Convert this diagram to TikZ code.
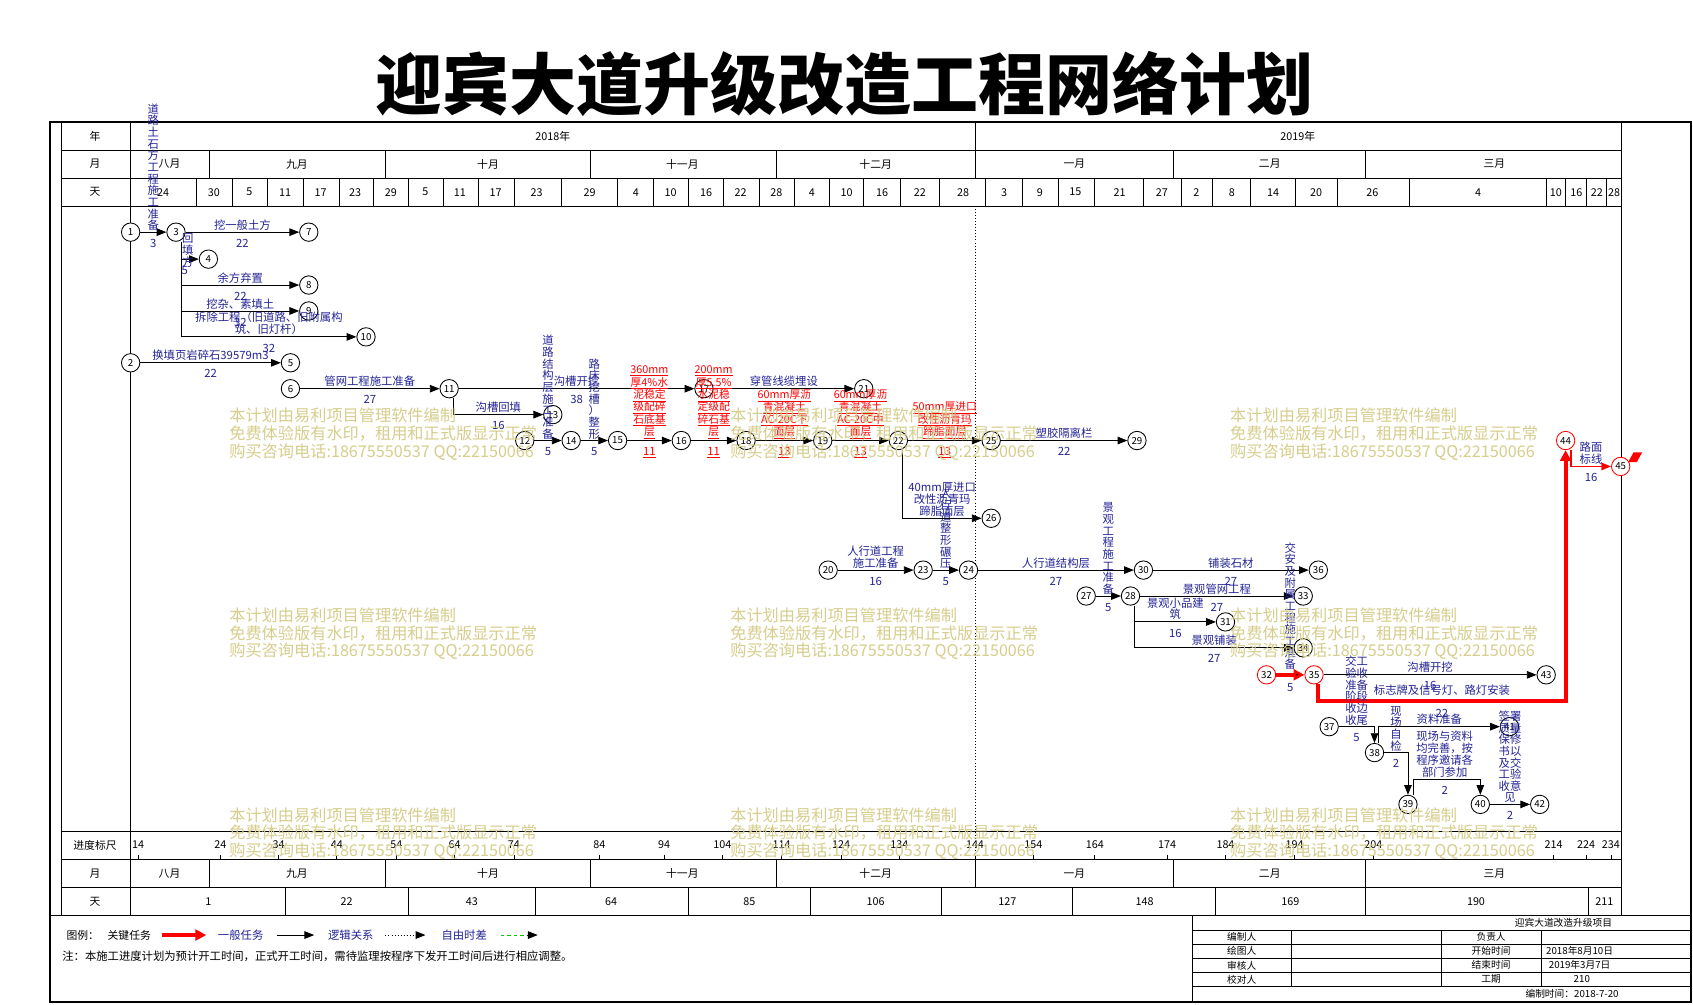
\documentclass[tikz,border=0pt]{standalone}
\usepackage{fontspec}
\setmainfont{Noto Sans CJK SC}
\usepackage{xcolor}
\usepackage{tikz}
\usetikzlibrary{arrows.meta}
\XeTeXlinebreaklocale "zh"
\XeTeXlinebreakskip=0pt plus 1pt
\definecolor{wblue}{RGB}{36,36,150}
\definecolor{wmark}{RGB}{214,206,140}
\definecolor{fgreen}{RGB}{0,200,0}
\newcommand\ulab[1]{\underline{#1}}

\begin{document}
\begin{tikzpicture}[x=1pt,y=-1pt,line width=0.8pt,
  ev/.style={circle,draw,fill=white,minimum size=17pt,inner sep=0pt,font=\fontsize{9}{9}\selectfont},
  kev/.style={ev,draw=red},
  work/.style={-{Triangle[length=9pt,width=7pt]}},
  key/.style={-{Triangle[length=10pt,width=10pt]},draw=red,line width=3.5pt},
  lbl/.style={text=wblue,font=\fontsize{10.5}{11}\selectfont,inner sep=1.5pt},
  dur/.style={lbl,inner sep=1pt,below=5pt},
  vlbl/.style={lbl,text width=11pt,align=center,inner sep=1pt,font=\fontsize{10.5}{10.8}\selectfont},
  vlbl2/.style={vlbl,text width=22pt},
  rlbl/.style={lbl,text=red,align=center,font=\fontsize{10}{11.4}\selectfont},
  hd/.style={font=\fontsize{10}{11}\selectfont},
  ib/.style={font=\fontsize{9}{10}\selectfont},
  wm/.style={text=wmark,anchor=west,align=left,inner sep=0pt,font=\fontsize{15}{16.5}\selectfont}]
  \fill[white] (0,0) rectangle (1568,930);
  \useasboundingbox (0,0) rectangle (1568,930);

  % title
  \node[font=\fontsize{62}{62}\selectfont\bfseries] (title) at (782,78) {迎宾大道升级改造工程网络计划};

  % table rules
  \draw[line width=2pt] (46,113) rectangle (1566,928);
  \draw (57,113) -- (57,848) (121,113) -- (121,848) (1502,113) -- (1502,848);
  \foreach \y in {139,165,191,770,796,822}
    \draw (57,\y) -- (1502,\y);
  \draw (46,848) -- (1566,848);
  \draw (903,113) -- (903,139);
  \foreach \x in {194,357,547,719,903,1087,1265}
    \draw (\x,139) -- (\x,165) (\x,796) -- (\x,822);
  \foreach \x in {182,215,248,281,314,346,378,411,443,476,520,572,605,638,670,703,736,768,800,834,870,913,947,980,1014,1059,1094,1123,1158,1200,1239,1305,1432,1450,1469,1488}
    \draw (\x,165) -- (\x,191);
  \foreach \x in {264,378,496,638,751,872,993,1126,1265,1471}
    \draw (\x,822) -- (\x,848);
  \draw[dotted] (903,191) -- (903,796);

  % table texts
  \node[hd] (nian) at (88,126) {年};
  \node[hd] (yue) at (88,152) {月};
  \node[hd] (tian) at (88,178) {天};
  \node[hd] (chi) at (88,783) {进度标尺};
  \node[hd] (yue2) at (88,809) {月};
  \node[hd] (tian2) at (88,835) {天};
  \node[hd] (y18) at (512,126) {2018年};
  \node[hd] (y19) at (1202,126) {2019年};
  \foreach \x/\m in {157/八月,275/九月,452/十月,632/十一月,811/十二月,995/一月,1176/二月,1384/三月} {
    \node[hd] (ma\x) at (\x,152) {\m};
    \node[hd] (mb\x) at (\x,809) {\m};
  }
  \foreach \x/\d in {151/24,198/30,231/5,264/11,297/17,329/23,362/29,394/5,426/11,459/17,497/23,546/29,589/4,621/10,654/16,686/22,719/28,752/4,784/10,817/16,852/22,892/28,930/3,963/9,996/15,1037/21,1076/27,1108/2,1141/8,1179/14,1219/20,1271/26,1369/4,1441/10,1460/16,1479/22,1495/28}
    \node[hd] (da\x) at (\x,178) {\d};
  \foreach \x/\d in {128/14,204/24,258/34,312/44,367/54,421/64,476/74,555/84,615/94,669/104,724/114,779/124,833/134,903/144,957/154,1014/164,1081/174,1135/184,1199/194,1272/204,1439/214,1469/224,1492/234} {
    \node[hd] (sc\x) at (\x,782) {\d};
    \draw (\x,792) -- (\x,796);
  }
  \foreach \x/\d in {193/1,321/22,437/43,566/64,694/85,811/106,933/127,1060/148,1195/169,1367/190,1486/211}
    \node[hd] (db\x) at (\x,835) {\d};

  % legend and note
  \node[hd,anchor=west] (tuli) at (58,866) {图例：};
  \node[hd,anchor=west] (lgkey) at (96,866) {关键任务};
  \draw[key] (150,866) -- (191,866);
  \node[lbl,anchor=west] (lgwork) at (200,866) {一般任务};
  \draw[work] (257,866) -- (291,866);
  \node[lbl,anchor=west] (lglogic) at (302,866) {逻辑关系};
  \draw[work,dotted] (357,866) -- (394,866);
  \node[lbl,anchor=west] (lgfree) at (407,866) {自由时差};
  \draw[fgreen,dashed] (464,866) -- (490,866);
  \draw[work] (488,866) -- (498,866);
  \node[anchor=west,font=\fontsize{10.5}{11}\selectfont] (note) at (54,886) {注：本施工进度计划为预计开工时间，正式开工时间，需待监理按程序下发开工时间后进行相应调整。};

  % info block
  \foreach \y in {862,875,888,901,914}
    \draw (1104,\y) -- (1566,\y);
  \draw (1104,848) -- (1104,928);
  \foreach \x in {1196,1335,1428}
    \draw (\x,862) -- (\x,914);
  \node[ib] (proj) at (1448,855) {迎宾大道改造升级项目};
  \foreach \y/\a/\b in {868/编制人/负责人,881/绘图人/开始时间,894/审核人/结束时间,907/校对人/工期} {
    \node[ib] (ia\y) at (1150,\y) {\a};
    \node[ib] (ib\y) at (1381,\y) {\b};
  }
  \node[ib] (start) at (1463,881) {2018年8月10日};
  \node[ib] (finish) at (1463,894) {2019年3月7日};
  \node[ib] (span) at (1465,907) {210};
  \node[ib] (made) at (1456,920) {编制时间：2018-7-20};

  % events
  \node[ev] (1) at (121,215) {1};
  \node[ev] (3) at (163,215) {3};
  \node[ev] (7) at (286,215) {7};
  \node[ev] (4) at (193,240) {4};
  \node[ev] (8) at (286,264) {8};
  \node[ev] (9) at (286,288) {9};
  \node[ev] (10) at (339,312) {10};
  \node[ev] (2) at (121,336) {2};
  \node[ev] (5) at (269,336) {5};
  \node[ev] (6) at (269,360) {6};
  \node[ev] (11) at (416,360) {11};
  \node[ev] (13) at (512,384) {13};
  \node[ev] (12) at (486,408) {12};
  \node[ev] (14) at (529,408) {14};
  \node[ev] (15) at (572,408) {15};
  \node[ev] (16) at (631,408) {16};
  \node[ev] (17) at (652,360) {17};
  \node[ev] (21) at (800,360) {21};
  \node[ev] (18) at (691,408) {18};
  \node[ev] (19) at (762,408) {19};
  \node[ev] (22) at (832,408) {22};
  \node[ev] (25) at (918,408) {25};
  \node[ev] (29) at (1053,408) {29};
  \node[ev] (26) at (918,480) {26};
  \node[ev] (20) at (767,528) {20};
  \node[ev] (23) at (855,528) {23};
  \node[ev] (24) at (897,528) {24};
  \node[ev] (30) at (1059,528) {30};
  \node[ev] (36) at (1221,528) {36};
  \node[ev] (27) at (1006,552) {27};
  \node[ev] (28) at (1047,552) {28};
  \node[ev] (33) at (1207,552) {33};
  \node[ev] (31) at (1135,576) {31};
  \node[ev] (34) at (1207,600) {34};
  \node[kev] (32) at (1173,625) {32};
  \node[kev] (35) at (1217,625) {35};
  \node[ev] (43) at (1432,625) {43};
  \node[kev] (44) at (1450,408) {44};
  \node[kev] (45) at (1501,432) {45};
  \node[ev] (37) at (1231,673) {37};
  \node[ev] (38) at (1273,697) {38};
  \node[ev] (41) at (1398,673) {41};
  \node[ev] (39) at (1304,745) {39};
  \node[ev] (40) at (1371,745) {40};
  \node[ev] (42) at (1426,745) {42};
  \coordinate (k44) at (1450,649);
  \coordinate (m40) at (1338,722);

  % straight works
  \path[work]
    (1) edge node[vlbl,above] {道路土石方工程施工准备} node[dur] {3} (3)
    (3) edge node[lbl,above] {挖一般土方} node[dur] {22} (7)
    (2) edge node[lbl,above] {换填页岩碎石39579m3} node[dur] {22} (5)
    (6) edge node[lbl,above] {管网工程施工准备} node[dur] {27} (11)
    (11) edge node[lbl,above] {沟槽开挖} node[dur] {38} (17)
    (17) edge node[lbl,above] {穿管线缆埋设} (21)
    (12) edge node[vlbl,above] {道路结构层施工准备} node[dur] {5} (14)
    (14) edge node[vlbl,above] {路\\床\\挖\\槽\\）\\整\\形} node[dur] {5} (15)
    (15) edge node[rlbl,above] {\ulab{360mm}\\\ulab{厚4\%水}\\\ulab{泥稳定}\\\ulab{级配碎}\\\ulab{石底基}\\\ulab{层}} node[dur,text=red] {\ulab{11}} (16)
    (16) edge node[rlbl,above] {\ulab{200mm}\\\ulab{厚5.5\%}\\\ulab{水泥稳}\\\ulab{定级配}\\\ulab{碎石基}\\\ulab{层}} node[dur,text=red] {\ulab{11}} (18)
    (18) edge node[rlbl,above] {\ulab{60mm厚沥}\\\ulab{青混凝土}\\\ulab{AC-20C下}\\\ulab{面层}} node[dur,text=red] {\ulab{13}} (19)
    (19) edge node[rlbl,above] {\ulab{60mm厚沥}\\\ulab{青混凝土}\\\ulab{AC-20C中}\\\ulab{面层}} node[dur,text=red] {\ulab{13}} (22)
    (22) edge node[rlbl,above] {\ulab{50mm厚进口}\\\ulab{改性沥青玛}\\\ulab{蹄脂面层}} node[dur,text=red] {\ulab{13}} (25)
    (25) edge node[lbl,above] {塑胶隔离栏} node[dur] {22} (29)
    (20) edge node[lbl,above,align=center] {人行道工程\\施工准备} node[dur] {16} (23)
    (23) edge node[vlbl,above] {人行道整形碾压} node[dur] {5} (24)
    (24) edge node[lbl,above] {人行道结构层} node[dur] {27} (30)
    (30) edge node[lbl,above] {铺装石材} node[dur] {27} (36)
    (27) edge node[vlbl,above] {景观工程施工准备} node[dur] {5} (28)
    (28) edge node[lbl,above] {景观管网工程} node[dur] {27} (33)
    (35) edge node[lbl,above] {沟槽开挖} node[dur] {16} (43)
    (40) edge node[vlbl2,above] {签署质量保修书以及交工验收意见} node[dur] {2} (42);
  \path[key]
    (32) edge node[vlbl,above=2pt] {交安及附属工程施工准备} node[dur] {5} (35);

  % bent works
  \draw[work] ([xshift=5pt]3.south) |- node[vlbl,pos=0.25,right=-1pt] {回填方} node[dur,pos=0.6] {5} (4);
  \draw[work] ([xshift=5pt]3.south) |- node[lbl,pos=0.75,above] {余方弃置} node[dur,pos=0.75] {22} (8);
  \draw[work] ([xshift=5pt]3.south) |- node[lbl,pos=0.75,above] {挖杂、素填土} node[dur,pos=0.75] {32} (9);
  \draw[work] ([xshift=5pt]3.south) |- node[lbl,pos=0.75,above,align=center] {拆除工程（旧道路、旧附属构\\筑、旧灯杆）} node[dur,pos=0.75] {32} (10);
  \draw[work] ([xshift=4pt]11.south) |- node[lbl,pos=0.75,above] {沟槽回填} node[dur,pos=0.75] {16} (13);
  \draw[work] ([xshift=4pt]22.south) |- node[lbl,pos=0.75,above,align=center] {40mm厚进口\\改性沥青玛\\蹄脂面层} (26);
  \draw[work] ([xshift=4pt]28.south) |- node[lbl,pos=0.75,above,align=center] {景观小品建\\筑} node[dur,pos=0.75] {16} (31);
  \draw[work] ([xshift=4pt]28.south) |- node[lbl,pos=0.75,above] {景观铺装} node[dur,pos=0.75] {27} (34);
  \draw[key] ([xshift=4pt]35.south) |- node[lbl,pos=0.75,above=2pt] {标志牌及信号灯、路灯安装} node[dur,pos=0.75] {22} (k44) -- (44);
  \draw[work,red,line width=1.2pt] ([xshift=5pt]44.south) |- node[lbl,pos=0.75,above,align=center] {路面\\标线} node[dur,pos=0.75] {16} (45);
  \fill[red] ([shift={(-2,-4)}]45.east) -- ++(5,-9) -- ++(8,0) -- ++(-5,9) -- cycle;
  \draw[work] (37) -| node[vlbl2,pos=0.25,above] {交工验收准备阶段收边收尾} node[dur,pos=0.25] {5} (38);
  \draw[work] (38) -| node[vlbl,pos=0.25,above] {现场自检} node[dur,pos=0.25] {2} (39);
  \draw[work] ([xshift=4pt]38.north) |- node[lbl,pos=0.75,above] {资料准备} (41);
  \draw[work] ([xshift=5pt]39.north) |- (m40) node[lbl,above,align=center] {现场与资料\\均完善，按\\程序邀请各\\部门参加} node[dur] {2} -| (40);

  % watermark
  \foreach \wx in {212,676,1139}
    \foreach \wy in {402,587,772}
      \node[wm] (w\wx\wy) at (\wx,\wy) {本计划由易利项目管理软件编制\\免费体验版有水印，租用和正式版显示正常\\购买咨询电话:18675550537 QQ:22150066};
\end{tikzpicture}
\end{document}
